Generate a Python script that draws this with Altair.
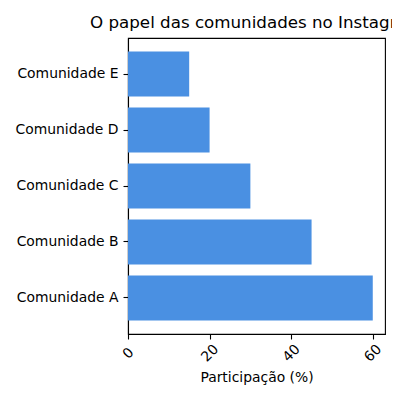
import altair as alt
import pandas as pd

categories = ["Comunidade A", "Comunidade B", "Comunidade C", "Comunidade D", "Comunidade E"]
values = [60, 45, 30, 20, 15]
x_ticks = [0, 20, 40, 60]

df = pd.DataFrame({"comunidade": categories, "participacao": values})

font = "DejaVu Sans"

chart = alt.Chart(df).mark_bar(color="#4a90e2").encode(
    x=alt.X(
        "participacao:Q",
        scale=alt.Scale(domain=[0, 63], nice=False, zero=True),
        axis=alt.Axis(
            title="Participação (%)",
            values=x_ticks,
            labelAngle=315,
            labelAlign="center",
            labelBaseline="middle",
            labelPadding=14,
            tickSize=5,
            titlePadding=6,
        ),
    ),
    y=alt.Y(
        "comunidade:N",
        sort=list(reversed(categories)),
        scale=alt.Scale(paddingInner=0.2, paddingOuter=0.243),
        axis=alt.Axis(title=None, tickSize=5, labelPadding=5),
    ),
).properties(
    width=257,
    height=296,
    title=alt.Title("O papel das comunidades no Instagram", fontSize=16.7, font=font,
                    fontWeight="normal", color="black", anchor="middle", offset=6),
    autosize=alt.AutoSizeParams(type="none"),
    padding={"left": 120, "top": 30, "right": 7, "bottom": 54},
).configure_view(
    stroke="black", strokeWidth=1.1
).configure_axis(
    labelFont=font, titleFont=font, labelFontSize=13.9, titleFontSize=13.9,
    labelColor="black", titleColor="black", domainColor="black", tickColor="black",
    domainWidth=1.1, tickWidth=1.1, grid=False, titleFontWeight="normal",
)

chart.save("out.html", embed_options={"renderer": "svg", "actions": False})
